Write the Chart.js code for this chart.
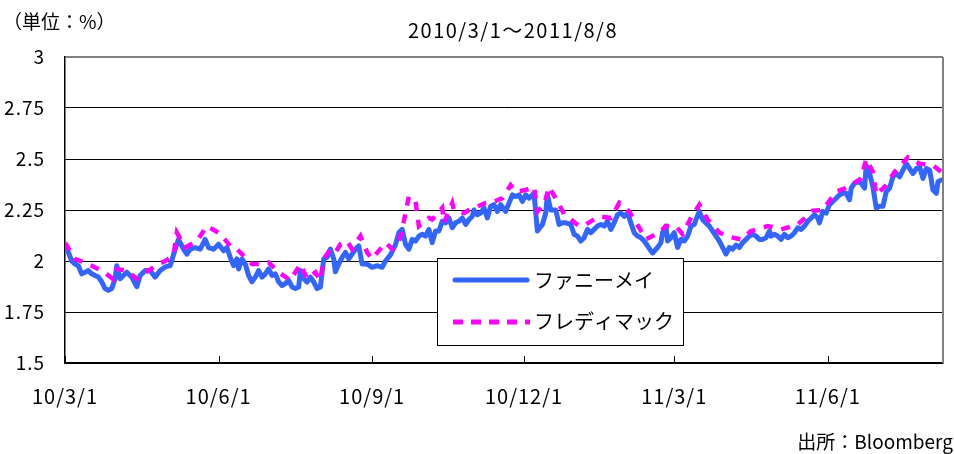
<!DOCTYPE html>
<html><head><meta charset="utf-8">
<script src="https://cdn.jsdelivr.net/npm/chart.js@4/dist/chart.umd.min.js"></script>
<style>html,body{margin:0;padding:0;background:#fff}#wrap{width:954px;height:454px;position:relative}</style>
</head><body><div id="wrap"><canvas id="c" width="954" height="454"></canvas></div>
<script>
const titleText = '2010/3/1～2011/8/8';
const unitText = '（単位：%）';
const sourceText = '出所：Bloomberg';
const seriesNames = ['ファニーメイ', 'フレディマック'];
const xTickDays = [0, 92, 184, 275, 365, 457];
const xTickLabels = ['10/3/1', '10/6/1', '10/9/1', '10/12/1', '11/3/1', '11/6/1'];
const yTickValues = [1.5, 1.75, 2, 2.25, 2.5, 2.75, 3];

// days since 2010/3/1
const fannieDays = [0,2,4,6,8,10,12,14,16,18,20,22,24,26,28,30,31,33,35,37,40,43,45,48,51,54,57,60,63,66,68,71,73,75,78,81,84,86,89,92,95,97,99,101,103,104,106,108,110,112,114,116,118,120,122,124,126,128,130,132,134,136,138,140,141,143,145,147,149,151,153,155,157,159,161,162,164,166,168,170,172,174,176,178,181,184,187,190,192,195,198,200,202,204,206,208,210,212,214,216,218,220,222,224,226,228,230,232,234,236,238,240,242,244,245,247,249,251,253,255,257,259,261,264,266,268,270,272,274,276,278,280,281,283,286,288,289,291,294,296,298,300,303,305,307,309,311,313,315,317,319,321,323,325,327,329,331,333,335,337,339,341,343,345,347,349,351,352,355,357,358,360,361,363,365,367,369,371,373,375,377,378,380,382,384,386,388,390,392,394,396,398,400,402,404,406,408,410,412,414,416,418,420,422,423,425,427,429,431,433,435,437,439,441,443,445,447,449,451,452,454,456,458,460,462,464,466,468,470,471,473,475,477,479,480,482,484,486,488,490,492,494,496,498,500,502,504,506,508,510,512,514,516,518,520,522,523,525];
const fannieValues = [2.074,2.043,2.00,1.985,1.977,1.937,1.945,1.953,1.937,1.929,1.921,1.898,1.865,1.856,1.865,1.913,1.977,1.913,1.929,1.945,1.921,1.874,1.929,1.953,1.953,1.921,1.953,1.971,1.977,2.058,2.106,2.058,2.034,2.058,2.066,2.058,2.106,2.066,2.058,2.082,2.05,2.066,2.018,1.977,2.01,1.961,2.01,1.985,1.929,1.898,1.921,1.953,1.921,1.937,1.961,1.929,1.937,1.898,1.880,1.889,1.905,1.873,1.865,1.873,1.953,1.913,1.897,1.921,1.897,1.865,1.873,2.01,2.018,2.058,2.01,1.947,1.985,2.018,2.042,2.01,2.034,2.058,2.074,1.985,1.985,1.969,1.977,1.969,2.0,2.03,2.08,2.139,2.155,2.082,2.058,2.106,2.098,2.122,2.131,2.122,2.155,2.090,2.147,2.147,2.195,2.187,2.211,2.163,2.187,2.195,2.211,2.179,2.203,2.219,2.25,2.227,2.235,2.26,2.211,2.268,2.276,2.243,2.276,2.243,2.284,2.324,2.316,2.324,2.292,2.324,2.308,2.324,2.332,2.147,2.179,2.235,2.324,2.25,2.25,2.179,2.187,2.187,2.179,2.131,2.122,2.098,2.114,2.155,2.139,2.155,2.171,2.179,2.171,2.195,2.155,2.187,2.227,2.235,2.219,2.235,2.187,2.139,2.122,2.114,2.098,2.074,2.050,2.039,2.066,2.090,2.139,2.171,2.098,2.114,2.139,2.066,2.106,2.098,2.122,2.171,2.179,2.203,2.243,2.203,2.187,2.171,2.147,2.122,2.098,2.066,2.034,2.066,2.058,2.078,2.066,2.090,2.106,2.122,2.131,2.122,2.106,2.106,2.114,2.147,2.122,2.131,2.122,2.106,2.131,2.114,2.122,2.139,2.163,2.155,2.171,2.195,2.211,2.227,2.211,2.187,2.243,2.235,2.276,2.292,2.308,2.324,2.332,2.332,2.300,2.357,2.381,2.389,2.381,2.357,2.469,2.429,2.364,2.260,2.268,2.268,2.340,2.357,2.413,2.429,2.413,2.445,2.477,2.453,2.429,2.453,2.461,2.405,2.453,2.445,2.348,2.332,2.389,2.397];

const freddieDays = [0,6,14,23,29,31,37,43,50,56,60,65,67,72,79,85,92,95,100,103,112,116,122,128,135,141,145,150,153,155,159,162,165,169,172,177,181,184,192,196,200,203,206,210,212,218,220,226,227,232,233,239,242,252,255,262,267,270,276,281,283,287,290,295,299,308,312,320,327,332,338,344,348,356,360,366,370,375,380,385,392,398,405,411,421,429,439,448,454,462,466,471,477,480,484,486,492,497,505,512,520,525];
const freddieValues = [2.09,2.01,1.985,1.948,1.91,1.961,1.953,1.913,1.953,1.985,2.0,2.026,2.139,2.066,2.098,2.171,2.139,2.114,2.062,2.058,1.985,1.985,1.993,1.945,1.905,1.985,1.913,1.945,1.905,2.01,2.058,2.042,2.082,2.098,2.058,2.122,2.042,2.01,2.09,2.058,2.09,2.195,2.316,2.292,2.171,2.211,2.203,2.26,2.187,2.284,2.25,2.235,2.25,2.284,2.284,2.308,2.372,2.340,2.348,2.364,2.243,2.276,2.364,2.292,2.23,2.171,2.179,2.219,2.211,2.284,2.243,2.163,2.106,2.139,2.171,2.171,2.131,2.211,2.276,2.203,2.139,2.118,2.106,2.147,2.171,2.155,2.179,2.247,2.25,2.340,2.352,2.372,2.405,2.5,2.437,2.324,2.372,2.437,2.508,2.477,2.469,2.437];

const FONT = '"Noto Sans CJK JP", "Liberation Sans", sans-serif';
const BLUE = '#3366FF';
const MAGENTA = '#FF00FF';

const toPoints = (xs, ys) => xs.map((x, i) => ({ x: x, y: ys[i] }));

const decor = {
  id: 'decor',
  beforeDraw(chart) {
    try { chart.ctx.letterSpacing = '1px'; } catch (e) {}
  },
  afterDraw(chart) {
    const ctx = chart.ctx;
    const a = chart.chartArea;
    const xs = chart.scales.x;
    ctx.save();
    try { ctx.letterSpacing = '0px'; } catch (e) {}
    // right border (gray)
    ctx.strokeStyle = '#808080';
    ctx.lineWidth = 2;
    ctx.beginPath();
    ctx.moveTo(a.right, a.top);
    ctx.lineTo(a.right, a.bottom);
    ctx.stroke();
    // inward x tick marks
    ctx.strokeStyle = '#000';
    ctx.lineWidth = 1;
    xTickDays.forEach(d => {
      const px = Math.round(xs.getPixelForValue(d)) + 0.5;
      ctx.beginPath();
      ctx.moveTo(px, a.bottom);
      ctx.lineTo(px, a.bottom - 7);
      ctx.stroke();
    });
    // texts
    ctx.fillStyle = '#000';
    ctx.font = '19px ' + FONT;
    ctx.textBaseline = 'middle';
    ctx.textAlign = 'left';
    ctx.fillText(unitText, 3, 22);
    ctx.textAlign = 'center';
    ctx.font = '20px ' + FONT;
    try { ctx.letterSpacing = '1.5px'; } catch (e) {}
    ctx.fillText(titleText, 513, 30);
    try { ctx.letterSpacing = '0px'; } catch (e) {}
    ctx.textAlign = 'right';
    ctx.font = '19px ' + FONT;
    ctx.fillText(sourceText, 953, 442);
    // legend
    const lx = 437, ly = 258, lw = 246, lh = 87;
    ctx.fillStyle = '#fff';
    ctx.fillRect(lx, ly, lw, lh);
    ctx.strokeStyle = '#000';
    ctx.lineWidth = 1;
    ctx.strokeRect(lx + 0.5, ly + 0.5, lw, lh);
    ctx.lineWidth = 5;
    ctx.strokeStyle = BLUE;
    ctx.lineCap = 'round';
    ctx.beginPath();
    ctx.moveTo(455, 280);
    ctx.lineTo(527, 280);
    ctx.stroke();
    ctx.lineCap = 'butt';
    ctx.strokeStyle = MAGENTA;
    ctx.setLineDash([10, 8]);
    ctx.beginPath();
    ctx.moveTo(453, 322);
    ctx.lineTo(530, 322);
    ctx.stroke();
    ctx.setLineDash([]);
    ctx.fillStyle = '#000';
    ctx.font = '20px ' + FONT;
    ctx.textAlign = 'left';
    ctx.fillText(seriesNames[0], 534, 280);
    ctx.fillText(seriesNames[1], 534, 321);
    ctx.restore();
  }
};

new Chart(document.getElementById('c'), {
  type: 'line',
  data: {
    datasets: [
      { label: seriesNames[0], data: toPoints(fannieDays, fannieValues), borderColor: BLUE, borderWidth: 5,
        pointRadius: 0, tension: 0, fill: false, order: 1, borderJoinStyle: 'round', borderCapStyle: 'round' },
      { label: seriesNames[1], data: toPoints(freddieDays, freddieValues), borderColor: MAGENTA, borderWidth: 4.5,
        borderDash: [9, 9], pointRadius: 0, tension: 0, fill: false, order: 0 }
    ]
  },
  options: {
    responsive: false,
    animation: false,
    devicePixelRatio: 1,
    layout: { padding: { top: 57, right: 11, left: 0, bottom: 0 } },
    plugins: { legend: { display: false }, tooltip: { enabled: false }, title: { display: false } },
    scales: {
      x: {
        type: 'linear', min: 0, max: 526,
        afterBuildTicks: s => { s.ticks = xTickDays.map(v => ({ value: v })); },
        afterFit: s => { s.height = 91; },
        ticks: {
          autoSkip: false, maxRotation: 0, minRotation: 0, color: '#000', padding: 21,
          font: { family: FONT, size: 20 },
          callback: v => { const i = xTickDays.indexOf(v); return i >= 0 ? xTickLabels[i] : ''; }
        },
        grid: { display: false, drawTicks: false },
        border: { display: true, color: '#000', width: 1.5 }
      },
      y: {
        min: 1.5, max: 3,
        afterBuildTicks: s => { s.ticks = yTickValues.map(v => ({ value: v })); },
        afterFit: s => { s.width = 65; },
        ticks: {
          color: '#000', padding: 20, font: { family: FONT, size: 19 },
          callback: v => String(v)
        },
        grid: {
          drawTicks: false,
          color: c => (c.tick && c.tick.value === 3) ? '#808080' : '#000',
          lineWidth: c => (c.tick && c.tick.value === 3) ? 2 : 1
        },
        border: { display: true, color: '#000', width: 1.5 }
      }
    }
  },
  plugins: [decor]
});
</script>
</body></html>
